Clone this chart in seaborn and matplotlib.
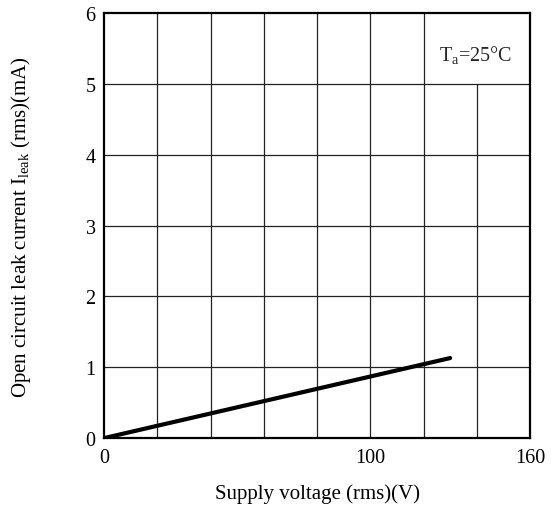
import pandas as pd
import numpy as np
import matplotlib
matplotlib.use("Agg")
import matplotlib.pyplot as plt
import seaborn as sns

# data
voltage = [0, 130]
leak_current = [0.0, 1.13]
x_ticks = [0, 100, 160]
y_ticks = [0, 1, 2, 3, 4, 5, 6]
grid_x = [20, 40, 60, 80, 100, 120]
grid_x_short = [140]
grid_y = [1, 2, 3, 4, 5]

sns.set_theme(style="white")
plt.rcParams['font.family'] = ['Liberation Serif', 'DejaVu Serif']
plt.rcParams['mathtext.fontset'] = 'custom'
plt.rcParams['mathtext.rm'] = 'Liberation Serif'
plt.rcParams['mathtext.it'] = 'Liberation Serif:italic'

fig = plt.figure(figsize=(5.55, 5.1), dpi=100)
ax = fig.add_axes([0.1874, 0.139, 0.7676, 0.8335])

df = pd.DataFrame({'V': voltage, 'I': leak_current})

# grid lines drawn by hand because the one at 140 stops under the label box
for gx in grid_x:
    ax.axvline(gx, color='#222222', lw=0.9, zorder=1)
for gx in grid_x_short:
    ax.axvline(gx, ymax=5 / 6, color='#222222', lw=0.9, zorder=1)
for gy in grid_y:
    ax.axhline(gy, color='#222222', lw=0.9, zorder=1)

sns.lineplot(data=df, x='V', y='I', color='black', lw=3, ax=ax, zorder=3)

ax.set_xlim(0, 160)
ax.set_ylim(0, 6)
ax.set_xticks(x_ticks)
ax.set_yticks(y_ticks)
ax.tick_params(labelsize=14.5, length=0, colors='black')
ax.tick_params(axis='x', pad=7)
ax.tick_params(axis='y', pad=6)
for s in ax.spines.values():
    s.set_color('black')
    s.set_linewidth(1.6)

ax.text(139.5, 5.42, r'T$_\mathrm{a}$=25°C', fontsize=14.5, ha='center', va='center')

ax.set_xlabel('Supply voltage (rms)(V)', fontsize=15, labelpad=12, color='black')
ax.set_ylabel(r'Open circuit leak current I$_\mathrm{leak}$ (rms)(mA)', fontsize=15,
              labelpad=38, color='black')

plt.savefig('out.png', dpi=100)
plt.close()
